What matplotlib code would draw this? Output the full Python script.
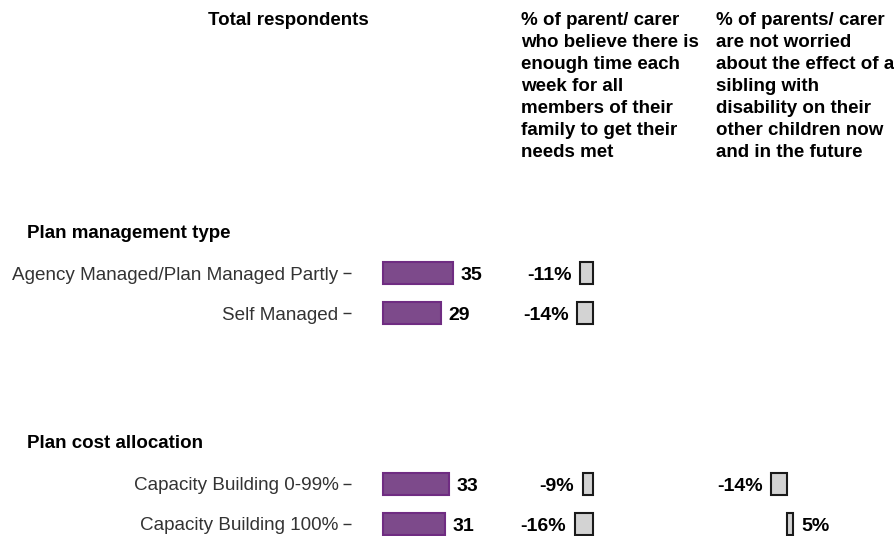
import numpy as np
import matplotlib.pyplot as plt
from matplotlib import transforms

plt.rcParams['font.family'] = ['Liberation Sans', 'DejaVu Sans']

# data
groups = ['Plan management type', 'Plan cost allocation']
categories = ['Agency Managed/Plan Managed Partly', 'Self Managed',
              'Capacity Building 0-99%', 'Capacity Building 100%']
group_of = [0, 0, 1, 1]
total_respondents = [35, 29, 33, 31]
enough_time = [-11, -14, -9, -16]
not_worried = [np.nan, np.nan, -14, 5]

col_headers = ['Total respondents',
               '% of parent/ carer\nwho believe there is\nenough time each\nweek for all\nmembers of their\nfamily to get their\nneeds met',
               '% of parents/ carer\nare not worried\nabout the effect of a\nsibling with\ndisability on their\nother children now\nand in the future']

W, H = 895, 536
fig = plt.figure(figsize=(W / 100, H / 100), dpi=100)

# y positions: one row per category, a gap between groups
group_gap = 3.275
ypos = []
for i, g in enumerate(group_of):
    ypos.append(i + g * group_gap)
ypos = np.array(ypos)
header_y = [ypos[group_of.index(g)] - 1.05 for g in range(len(groups))]

ylim = (6.575, -1.825)
top_px, bot_px = 200, 536


def add_panel(left_px, right_px, xlim):
    ax = fig.add_axes([left_px / W, 1 - bot_px / H,
                       (right_px - left_px) / W, (bot_px - top_px) / H])
    ax.set_xlim(*xlim)
    ax.set_ylim(*ylim)
    for s in ax.spines.values():
        s.set_visible(False)
    ax.set_xticks([])
    ax.set_yticks([])
    ax.patch.set_alpha(0)
    return ax


ax1 = add_panel(351, 510, (-16, 63.5))
ax2 = add_panel(521, 706, (-62.6, 98.3))
ax3 = add_panel(716, 895, (-61.7, 93.9))

bh = 0.55
ax1.barh(ypos, total_respondents, height=bh, color='#7d4a8b',
         edgecolor='#6f2c82', linewidth=1.5)
for y, v in zip(ypos, total_respondents):
    ax1.annotate(str(v), (v, y), xytext=(5.5, -5), textcoords='offset points',
                 ha='left', va='baseline', fontsize=14, fontweight='bold')

for ax, vals in [(ax2, enough_time), (ax3, not_worried)]:
    for y, v in zip(ypos, vals):
        if np.isnan(v):
            continue
        ax.barh(y, v, height=bh, color='#d3d3d3', edgecolor='#1a1a1a',
                linewidth=1.5)
        off = 6 if v > 0 else -6
        ax.annotate(f'{v:.0f}%', (v, y), xytext=(off, -5),
                    textcoords='offset points',
                    ha='left' if v > 0 else 'right', va='baseline',
                    fontsize=14, fontweight='bold')

# category labels with small ticks
ax1.set_yticks(ypos)
ax1.set_yticklabels(categories, fontsize=13.6, color='#333333')
ax1.tick_params(axis='y', length=6, width=1, color='#333333', pad=3)

# group headers
trans = transforms.blended_transform_factory(fig.transFigure, ax1.transData)
for g, y in zip(groups, header_y):
    ax1.text(27 / W, y, g, transform=trans, ha='left', va='center_baseline',
             fontsize=13.5, fontweight='bold')

# column headers
for x, txt in zip([208, 521, 716], col_headers):
    fig.text(x / W, 1 - 12 / H, txt, ha='left', va='top', fontsize=13.5,
             fontweight='bold', linespacing=1.39)

fig.savefig('out.png', dpi=100)
